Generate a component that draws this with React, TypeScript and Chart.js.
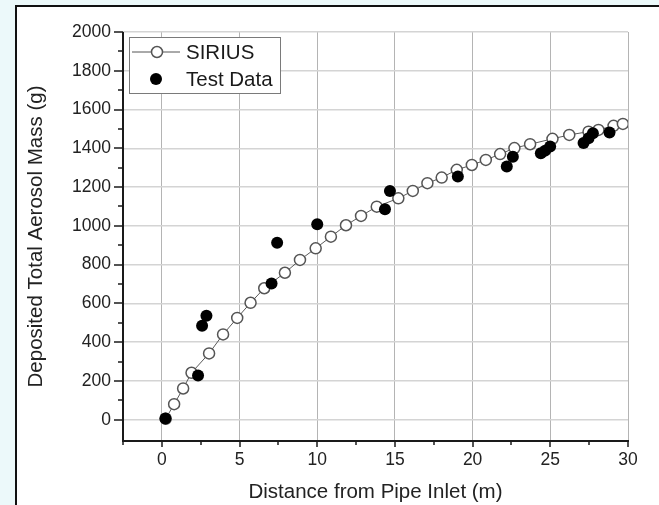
import React, { useEffect, useRef } from "react";
import { Chart, registerables } from "chart.js";

Chart.register(...registerables);

// ---- data ----
const siriusX = [0.25, 0.79, 1.37, 1.91, 3.04, 3.94, 4.85, 5.71, 6.59, 7.92, 8.89, 9.9, 10.88, 11.85, 12.82, 13.83, 15.22, 16.15, 17.09, 18.01, 18.98, 19.95, 20.85, 21.77, 22.69, 23.7, 25.14, 26.22, 27.46, 28.1, 29.07, 29.67];
const siriusY = [5, 80, 161, 242, 342, 440, 525, 603, 678, 758, 824, 884, 944, 1003, 1051, 1099, 1142, 1180, 1220, 1249, 1289, 1314, 1340, 1370, 1401, 1421, 1449, 1469, 1486, 1495, 1516, 1526];
const testX = [0.23, 2.33, 2.59, 2.87, 7.06, 7.42, 10.0, 14.36, 14.68, 19.05, 22.2, 22.59, 24.39, 24.67, 24.99, 27.14, 27.46, 27.74, 28.81];
const testY = [6, 228, 484, 536, 703, 913, 1008, 1086, 1180, 1254, 1306, 1357, 1375, 1388, 1409, 1427, 1452, 1478, 1481];
const seriesNames = ["SIRIUS", "Test Data"];
const xTitle = "Distance from Pipe Inlet (m)";
const yTitle = "Deposited Total Aerosol Mass (g)";
const xMin = -2.5, xMax = 30, xStep = 5;
const yMin = -110, yMax = 2000, yStep = 200;

const FONT = "'Liberation Sans', Arial, sans-serif";

const originPlugin = {
  id: "originAxes",
  afterDraw(chart: any) {
    const { ctx, chartArea: a, scales } = chart;
    const x = scales.x, y = scales.y;
    ctx.save();
    ctx.strokeStyle = "#1a1a1a";
    ctx.lineCap = "butt";
    ctx.lineWidth = 2;
    ctx.beginPath();
    ctx.moveTo(a.left, a.top);
    ctx.lineTo(a.left, a.bottom);
    ctx.lineTo(a.right + 1, a.bottom);
    ctx.stroke();
    ctx.lineWidth = 1.5;
    const seg = (x1: number, y1: number, x2: number, y2: number) => {
      ctx.beginPath();
      ctx.moveTo(x1, y1);
      ctx.lineTo(x2, y2);
      ctx.stroke();
    };
    for (let v = xMin; v <= xMax + 1e-9; v += xStep / 2) {
      const px = Math.round(x.getPixelForValue(v));
      const major = Math.abs(v / xStep - Math.round(v / xStep)) < 1e-6;
      seg(px, a.bottom, px, a.bottom + (major ? 6 : 4));
    }
    for (let v = 0; v <= yMax + 1e-9; v += yStep / 2) {
      const py = Math.round(y.getPixelForValue(v));
      const major = Math.abs(v / yStep - Math.round(v / yStep)) < 1e-6;
      seg(a.left - (major ? 9 : 5), py, a.left, py);
    }
    // legend
    const lx = 129, ly = 37, lw = 151, lh = 56;
    ctx.fillStyle = "#ffffff";
    ctx.fillRect(lx, ly, lw, lh);
    ctx.strokeStyle = "#7a7a7a";
    ctx.lineWidth = 1;
    ctx.strokeRect(lx + 0.5, ly + 0.5, lw, lh);
    const r1 = 52, r2 = 79;
    ctx.strokeStyle = "#555";
    ctx.lineWidth = 1;
    seg(132, r1, 180, r1);
    ctx.beginPath();
    ctx.arc(157, r1, 5.5, 0, Math.PI * 2);
    ctx.fillStyle = "#fff";
    ctx.fill();
    ctx.lineWidth = 1.5;
    ctx.stroke();
    ctx.beginPath();
    ctx.arc(156, r2, 6, 0, Math.PI * 2);
    ctx.fillStyle = "#000";
    ctx.fill();
    ctx.fillStyle = "#1a1a1a";
    ctx.font = `20.5px ${FONT}`;
    ctx.textBaseline = "middle";
    ctx.textAlign = "left";
    ctx.fillText(seriesNames[0], 186, r1 + 1);
    ctx.fillText(seriesNames[1], 186, r2 + 1);
    ctx.restore();
  },
};

export default function App() {
  const ref = useRef<HTMLCanvasElement | null>(null);
  useEffect(() => {
    const canvas = ref.current;
    if (!canvas) return;
    const chart = new Chart(canvas, {
      type: "scatter",
      data: {
        datasets: [
          {
            label: seriesNames[0],
            data: siriusX.map((v, i) => ({ x: v, y: siriusY[i] })),
            showLine: true,
            borderColor: "#5a5a5a",
            borderWidth: 1,
            pointRadius: 5.5,
            pointBackgroundColor: "#ffffff",
            pointBorderColor: "#555555",
            pointBorderWidth: 1.5,
            order: 1,
          },
          {
            label: seriesNames[1],
            data: testX.map((v, i) => ({ x: v, y: testY[i] })),
            showLine: false,
            pointRadius: 6,
            pointBackgroundColor: "#000000",
            pointBorderColor: "#000000",
            pointBorderWidth: 0,
            order: 0,
          },
        ],
      },
      options: {
        animation: false,
        responsive: false,
        maintainAspectRatio: false,
        layout: { padding: { left: 0, top: 32, right: 31, bottom: 0 } },
        plugins: { legend: { display: false }, tooltip: { enabled: false } },
        scales: {
          x: {
            type: "linear",
            min: xMin,
            max: xMax,
            afterFit: (s: any) => { s.height = 64; },
            border: { display: false },
            grid: { color: "#b4b4b4", lineWidth: 1, drawTicks: false },
            ticks: {
              stepSize: xStep,
              includeBounds: false,
              padding: 9,
              color: "#222",
              font: { family: FONT, size: 17.5 },
              maxRotation: 0,
              callback: (v: any) => String(v),
            },
            title: {
              display: true,
              text: xTitle,
              color: "#222",
              font: { family: FONT, size: 20.5 },
              padding: { top: 0, bottom: 0 },
            },
          },
          y: {
            type: "linear",
            min: yMin,
            max: yMax,
            afterFit: (s: any) => { s.width = 123; },
            border: { display: false },
            grid: { color: "#d4d4d4", lineWidth: 1.5, drawTicks: false },
            ticks: {
              stepSize: yStep,
              includeBounds: false,
              padding: 12,
              color: "#222",
              font: { family: FONT, size: 17.5 },
              callback: (v: any) => String(v),
            },
            title: {
              display: true,
              text: yTitle,
              color: "#222",
              font: { family: FONT, size: 20.5 },
              padding: { top: 24, bottom: 0 },
            },
          },
        },
      },
      plugins: [originPlugin],
    } as any);
    return () => chart.destroy();
  }, []);

  return (
    <div style={{ position: "fixed", left: 0, top: 0, width: 659, height: 505, background: "#ecf9fa", overflow: "hidden" }}>
      <div style={{ position: "absolute", left: 15, top: 5, width: 700, height: 600, borderLeft: "2px solid #111", borderTop: "2px solid #111", background: "#ffffff" }} />
      <canvas ref={ref} width={659} height={505} style={{ position: "absolute", left: 0, top: 0, width: 659, height: 505 }} />
    </div>
  );
}
